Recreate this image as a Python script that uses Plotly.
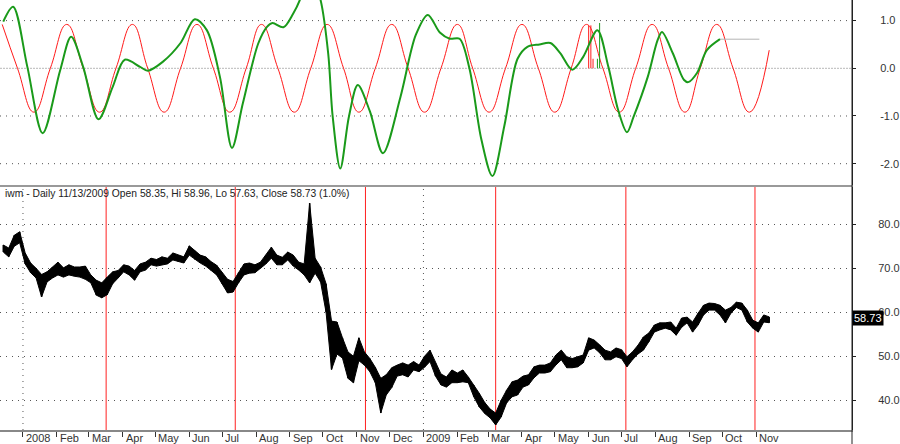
import pandas as pd
import plotly.graph_objects as go

# ---------------- data ----------------
month_ticks = ["2008-01-01", "2008-02-01", "2008-03-01", "2008-04-01", "2008-05-01", "2008-06-01",
               "2008-07-01", "2008-08-01", "2008-09-01", "2008-10-01", "2008-11-01", "2008-12-01",
               "2009-01-01", "2009-02-01", "2009-03-01", "2009-04-01", "2009-05-01", "2009-06-01",
               "2009-07-01", "2009-08-01", "2009-09-01", "2009-10-01", "2009-11-01"]
month_labels = ["2008", "Feb", "Mar", "Apr", "May", "Jun", "Jul", "Aug", "Sep", "Oct", "Nov", "Dec",
                "2009", "Feb", "Mar", "Apr", "May", "Jun", "Jul", "Aug", "Sep", "Oct", "Nov"]

osc_ticks = [1, 0, -1, -2]
osc_labels = ["1.0", "0.0", "-1.0", "-2.0"]
price_ticks = [40, 50, 60, 70, 80]
price_labels = ["40.0", "50.0", "60.0", "70.0", "80.0"]

# red cycle wave (extremes and zero crossings)
red_dates = ["2007-12-13", "2007-12-27", "2008-01-11", "2008-01-26", "2008-02-10", "2008-02-25",
             "2008-03-11", "2008-03-26", "2008-04-10", "2008-04-24", "2008-05-09", "2008-05-24",
             "2008-06-08", "2008-06-23", "2008-07-08", "2008-07-23", "2008-08-06", "2008-08-21",
             "2008-09-05", "2008-09-20", "2008-10-05", "2008-10-20", "2008-11-03", "2008-11-18",
             "2008-12-03", "2008-12-18", "2009-01-02", "2009-01-17", "2009-02-01", "2009-02-15",
             "2009-03-02", "2009-03-17", "2009-04-01", "2009-04-16", "2009-05-01", "2009-05-16",
             "2009-05-30", "2009-06-14", "2009-06-29", "2009-07-14", "2009-07-29", "2009-08-13",
             "2009-08-28", "2009-09-11", "2009-09-26", "2009-10-11", "2009-10-26", "2009-11-13"]
red_vals = [0.92, 0, -0.92, 0, 0.92, 0, -0.92, 0, 0.92, 0, -0.92, 0,
            0.92, 0, -0.92, 0, 0.92, 0, -0.92, 0, 0.92, 0, -0.92, 0,
            0.92, 0, -0.92, 0, 0.92, 0, -0.92, 0, 0.92, 0, -0.92, 0,
            0.92, 0, -0.92, 0, 0.92, 0, -0.92, 0, 0.92, 0, -0.92, 0.38]

# green oscillator
green_dates = ["2007-12-14", "2007-12-23", "2008-01-05", "2008-01-19", "2008-02-04", "2008-02-14",
               "2008-02-25", "2008-03-10", "2008-03-23", "2008-04-03", "2008-04-17", "2008-04-24",
               "2008-05-08", "2008-05-24", "2008-06-06", "2008-06-17", "2008-06-29", "2008-07-10",
               "2008-07-20", "2008-08-03", "2008-08-11", "2008-08-16", "2008-08-26", "2008-09-04",
               "2008-09-10", "2008-09-19", "2008-09-29", "2008-10-06", "2008-10-10", "2008-10-17",
               "2008-10-25", "2008-11-02", "2008-11-13", "2008-11-25", "2008-12-11", "2008-12-25",
               "2009-01-05", "2009-01-16", "2009-01-25", "2009-02-03", "2009-02-12", "2009-02-23",
               "2009-03-05", "2009-03-16", "2009-03-28", "2009-04-06", "2009-04-17", "2009-04-27",
               "2009-05-06", "2009-05-17", "2009-05-27", "2009-06-09", "2009-06-19", "2009-06-28",
               "2009-07-06", "2009-07-12", "2009-07-25", "2009-08-03", "2009-08-07", "2009-08-17",
               "2009-08-27", "2009-08-31", "2009-09-08", "2009-09-17", "2009-09-29"]
green_vals = [0.98, 1.29, 0.03, -1.36, -0.04, 0.66, 0.03, -1.07, -0.39, 0.18, 0.03, -0.05,
              0.14, 0.53, 1.03, 0.80, -0.18, -1.67, -0.73, 0.52, 0.87, 0.95, 0.86, 1.15,
              1.43, 2.1, 1.43, 0.3, -1.0, -2.1, -1.0, -0.35, -0.9, -1.78, -0.6, 0.7,
              1.12, 0.75, 0.62, 0.62, 0.0, -1.5, -2.26, -1.2, 0.2, 0.45, 0.5, 0.53,
              0.32, -0.03, 0.24, 0.80, 0.03, -0.88, -1.34, -1.02, -0.18, 0.59, 0.76, 0.31,
              -0.24, -0.29, -0.1, 0.38, 0.61]
proj_dates = ["2009-09-29", "2009-11-04"]
proj_vals = [0.61, 0.61]

red_spike_dates = ["2009-06-01", "2009-06-03", "2009-06-05"]
red_spike_vals = [0.9, 0.9, 0.2]
green_spike_dates = ["2009-06-09", "2009-06-11"]
green_spike_vals = [0.2, 0.95]

# price bars (sampled every 5 calendar days)
price_dates = pd.date_range("2007-12-14", periods=141, freq="5D")
price_high = [75.3, 74.6, 77.5, 78.3, 73.5, 71.2, 70.0, 68.6, 69.2, 70.3,
              71.4, 70.1, 70.8, 70.3, 70.3, 70.5, 68.5, 67.3, 66.7, 68.0,
              69.2, 69.5, 70.8, 70.5, 69.5, 71.0, 71.4, 72.3, 72.0, 72.6,
              72.3, 73.5, 73.0, 72.6, 75.1, 74.0, 73.0, 72.6, 71.5, 70.7,
              69.0, 67.5, 67.0, 69.0, 71.0, 71.2, 70.8, 71.4, 73.0, 74.8,
              73.0, 72.5, 73.7, 73.0, 71.4, 71.0, 84.8, 72.3, 70.3, 66.5,
              58.0, 57.8, 54.2, 51.0, 50.0, 54.2, 51.0, 49.5, 47.5, 45.0,
              45.8, 47.4, 48.0, 48.5, 48.0, 48.8, 48.0, 50.0, 51.4, 48.5,
              46.0, 45.3, 46.9, 46.2, 46.9, 45.3, 43.5, 41.6, 39.5, 38.0,
              37.1, 40.0, 42.3, 44.2, 44.6, 45.5, 45.8, 47.6, 48.0, 48.0,
              48.5, 50.3, 51.4, 49.9, 49.5, 49.9, 50.3, 54.2, 53.7, 52.6,
              51.4, 51.0, 51.9, 51.5, 49.9, 51.0, 52.5, 54.4, 55.3, 57.1,
              57.6, 57.6, 57.8, 56.4, 58.7, 58.9, 57.8, 59.8, 61.6, 62.1,
              62.0, 61.6, 60.5, 61.1, 62.3, 62.1, 60.5, 58.2, 57.6, 59.4,
              58.96]
price_low = [73.7, 72.6, 75.0, 75.8, 71.0, 69.0, 67.8, 63.5, 66.9, 67.8,
             68.5, 68.0, 68.5, 68.2, 68.0, 67.5, 66.7, 63.9, 63.3, 64.0,
             66.5, 67.8, 69.2, 68.5, 67.3, 69.2, 69.6, 70.8, 70.5, 70.8,
             71.0, 71.9, 71.5, 71.2, 73.0, 72.0, 71.2, 70.5, 69.5, 68.5,
             66.5, 64.4, 64.6, 66.7, 68.5, 68.9, 69.0, 70.0, 71.0, 72.3,
             70.8, 70.8, 71.9, 70.5, 69.6, 68.5, 66.7, 68.9, 66.9, 60.0,
             47.0, 50.5, 49.6, 45.0, 44.0, 49.0, 48.0, 46.5, 44.0, 37.1,
             41.2, 42.9, 45.5, 45.8, 45.3, 46.9, 46.5, 47.5, 48.8, 45.5,
             43.5, 43.0, 44.0, 44.0, 44.2, 44.0, 40.8, 38.5, 37.0, 36.0,
             34.4, 36.2, 39.4, 40.8, 41.2, 43.0, 43.5, 45.1, 46.2, 46.2,
             46.5, 48.0, 49.2, 47.4, 47.4, 47.6, 48.5, 51.4, 51.9, 50.8,
             49.2, 49.2, 49.9, 49.5, 47.6, 49.2, 50.5, 51.4, 53.3, 55.5,
             56.0, 56.4, 56.0, 54.8, 56.6, 57.6, 55.5, 57.1, 59.4, 60.5,
             60.5, 59.4, 57.6, 59.8, 61.1, 60.5, 57.8, 56.4, 55.5, 57.8,
             57.63]
last_close = 58.73

cycle_dates = ["2008-03-17", "2008-07-13", "2008-11-09", "2009-03-08", "2009-07-05", "2009-10-31"]
year_starts = ["2008-01-01", "2009-01-01"]

title_text = "iwm - Daily 11/13/2009 Open 58.35, Hi 58.96, Lo 57.63, Close 58.73 (1.0%)"

# ---------------- figure ----------------
X_RANGE = ["2007-12-11", "2010-01-27 16:00"]
FONT = "Liberation Sans, Arial, sans-serif"
H = 444
PLOT_H = 430
top_dom = [1 - 185 / PLOT_H, 1]
bot_dom = [0, (PLOT_H - 187) / PLOT_H]
GREEN = "#1a9a1a"
RED = "#ff1a1a"

fig = go.Figure()


def spikes(dates, vals):
    xs, ys = [], []
    for d, v in zip(dates, vals):
        xs += [d, d, None]
        ys += [0, v, None]
    return xs, ys


# top panel
fig.add_trace(go.Scatter(x=red_dates, y=red_vals, mode="lines",
                         line=dict(color=RED, width=1, shape="spline", smoothing=1.3),
                         xaxis="x", yaxis="y", hoverinfo="skip"))
sx, sy = spikes(red_spike_dates, red_spike_vals)
fig.add_trace(go.Scatter(x=sx, y=sy, mode="lines", line=dict(color=RED, width=1),
                         xaxis="x", yaxis="y", hoverinfo="skip"))
sx, sy = spikes(green_spike_dates, green_spike_vals)
fig.add_trace(go.Scatter(x=sx, y=sy, mode="lines", line=dict(color=GREEN, width=1),
                         xaxis="x", yaxis="y", hoverinfo="skip"))
fig.add_trace(go.Scatter(x=proj_dates, y=proj_vals, mode="lines", line=dict(color="#b4b4b4", width=1),
                         xaxis="x", yaxis="y", hoverinfo="skip"))
fig.add_trace(go.Scatter(x=green_dates, y=green_vals, mode="lines",
                         line=dict(color=GREEN, width=2, shape="spline", smoothing=0.9),
                         xaxis="x", yaxis="y", hoverinfo="skip"))

# bottom panel: daily high-low range drawn as a filled band plus strokes
band_x = list(price_dates) + list(price_dates[::-1])
band_y = list(price_high) + list(price_low[::-1])
fig.add_trace(go.Scatter(x=band_x, y=band_y, mode="lines", fill="toself", fillcolor="#000000",
                         line=dict(color="#000000", width=1),
                         xaxis="x2", yaxis="y2", hoverinfo="skip"))
bx, by = [], []
for d, h, l in zip(price_dates, price_high, price_low):
    bx += [d, d, None]
    by += [l, h, None]
fig.add_trace(go.Scatter(x=bx, y=by, mode="lines", line=dict(color="#000000", width=1.5),
                         xaxis="x2", yaxis="y2", hoverinfo="skip"))

shapes = []
for v in osc_ticks:
    if v == 0:
        shapes.append(dict(type="line", xref="x domain", yref="y", x0=0, x1=1, y0=v, y1=v,
                           line=dict(color="#b8b8b8", width=1, dash="2px,1px"), layer="below"))
    else:
        shapes.append(dict(type="line", xref="x domain", yref="y", x0=0, x1=0.995, y0=v, y1=v,
                           line=dict(color="#555555", width=1, dash="1px,5px"), layer="below"))
for d in year_starts:
    shapes.append(dict(type="line", xref="x2", yref="y2 domain", x0=d, x1=d, y0=0, y1=1,
                       line=dict(color="#555555", width=1, dash="1px,5px"), layer="below"))
for d in cycle_dates:
    shapes.append(dict(type="line", xref="x2", yref="y2 domain", x0=d, x1=d, y0=0, y1=1,
                       line=dict(color="#ff2020", width=1), layer="below"))
shapes.append(dict(type="line", xref="paper", yref="paper", x0=1, x1=1, y0=-0.05, y1=1,
                   line=dict(color="#222222", width=1)))

annotations = []
for d, lab in zip(month_ticks, month_labels):
    annotations.append(dict(x=d, xref="x2", y=0, yref="paper", yanchor="top", xanchor="left",
                            text=lab, showarrow=False, xshift=1, yshift=0,
                            font=dict(family=FONT, size=11, color="#333333")))
annotations.append(dict(x=0.004, xref="paper", y=(PLOT_H - 186.5) / PLOT_H, yref="paper",
                        xanchor="left", yanchor="top", text=title_text, showarrow=False,
                        font=dict(family=FONT, size=10.3, color="#222222")))
annotations.append(dict(x=1, xref="paper", y=last_close, yref="y2", xanchor="left", yanchor="middle",
                        text=str(last_close), showarrow=False, bgcolor="#000000", borderpad=1,
                        font=dict(family=FONT, size=11, color="#ffffff")))

fig.update_layout(
    width=900, height=H,
    margin=dict(l=0, r=48, t=0, b=H - PLOT_H, autoexpand=False),
    paper_bgcolor="white", plot_bgcolor="white",
    showlegend=False,
    font=dict(family=FONT, size=11, color="#333333"),
    xaxis=dict(domain=[0, 1], anchor="y", type="date", range=X_RANGE, showticklabels=False, automargin=False,
               showgrid=False, zeroline=False, showline=True, linecolor="#999999", linewidth=2, ticks=""),
    yaxis=dict(domain=top_dom, anchor="x", side="right", range=[-2.447, 1.432], automargin=False,
               tickvals=osc_ticks, ticktext=osc_labels, ticks="outside", ticklen=3, tickcolor="#222222",
               showgrid=False, zeroline=False, showline=True, linecolor="#222222", linewidth=1,
               ticklabelstandoff=22, tickfont=dict(family=FONT, size=11, color="#333333")),
    xaxis2=dict(domain=[0, 1], anchor="y2", type="date", range=X_RANGE, tickvals=month_ticks, automargin=False,
                ticks="outside", ticklen=5, tickcolor="#333333", showticklabels=False,
                showgrid=False, zeroline=False, showline=True, linecolor="#888888", linewidth=1.5),
    yaxis2=dict(domain=bot_dom, anchor="x2", side="right", range=[33.25, 88.48], automargin=False,
                tickvals=price_ticks, ticktext=price_labels, ticks="outside", ticklen=3, tickcolor="#222222",
                showgrid=True, gridcolor="#555555", griddash="1px,5px", gridwidth=1,
                zeroline=False, showline=True, linecolor="#222222", linewidth=1,
                ticklabelstandoff=20, tickfont=dict(family=FONT, size=11, color="#333333")),
    shapes=shapes,
    annotations=annotations,
)

fig.write_html("out.html")
